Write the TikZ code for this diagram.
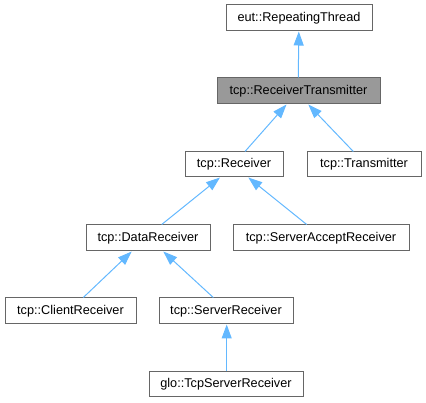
\documentclass[tikz,border=0pt]{standalone}
\usepackage{fontspec}
\setmainfont{Liberation Sans}
\usetikzlibrary{arrows.meta}
\definecolor{edgeblue}{HTML}{63B8FF}
\definecolor{boxborder}{HTML}{666666}
\definecolor{focusfill}{HTML}{999999}
\begin{document}
\begin{tikzpicture}[x=1pt,y=-1pt,
  cls/.style={draw=boxborder,line width=1pt,fill=white,inner sep=0pt,minimum height=26pt,
    font=\fontsize{12.7}{14}\selectfont,text=black},
  focus/.style={cls,fill=focusfill},
  edge/.style={draw=edgeblue,line width=1pt,-{Triangle[length=14pt,width=10pt]}}]
\useasboundingbox (0,0) rectangle (426,403);
\node[cls,minimum width=146pt] (rep) at (299,18) {eut::RepeatingThread};
\node[focus,minimum width=163pt] (rt) at (298.5,91) {tcp::ReceiverTransmitter};
\node[cls,minimum width=98pt,minimum height=25pt] (recv) at (234,164.5) {tcp::Receiver};
\node[cls,minimum width=114pt,minimum height=25pt] (trans) at (364,164.5) {tcp::Transmitter};
\node[cls,minimum width=124pt] (dr) at (148,238) {tcp::DataReceiver};
\node[cls,minimum width=176pt] (sar) at (321,238) {tcp::ServerAcceptReceiver};
\node[cls,minimum width=131pt] (cr) at (70.5,311) {tcp::ClientReceiver};
\node[cls,minimum width=134pt] (sr) at (226,311) {tcp::ServerReceiver};
\node[cls,minimum width=154pt,minimum height=25pt] (tsr) at (226,384.5) {glo::TcpServerReceiver};
\draw[edge] ([xshift=-0.2pt]rt.north) -- ([xshift=-0.2pt]rep.south);
\draw[edge] ([xshift=11pt]recv.north) -- ([xshift=-12pt]rt.south);
\draw[edge] ([xshift=-10.7pt]trans.north) -- ([xshift=9.8pt]rt.south);
\draw[edge] ([xshift=13.7pt]dr.north) -- ([xshift=-14pt]recv.south);
\draw[edge] ([xshift=-14.3pt]sar.north) -- ([xshift=14.3pt]recv.south);
\draw[edge] ([xshift=12.8pt]cr.north) -- ([xshift=-16.3pt]dr.south);
\draw[edge] ([xshift=-12.7pt]sr.north) -- ([xshift=15.3pt]dr.south);
\draw[edge] ([xshift=0.7pt]tsr.north) -- ([xshift=0.7pt]sr.south);
\end{tikzpicture}
\end{document}
